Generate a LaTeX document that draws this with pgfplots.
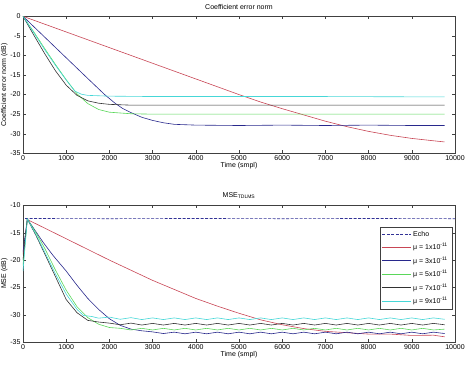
\documentclass[border=0pt]{standalone}
\usepackage{fontspec}
\setmainfont{Liberation Sans}
\usepackage{pgfplots}
\pgfplotsset{compat=1.18}
\definecolor{cred}{RGB}{200,70,85}
\definecolor{cblue}{RGB}{40,40,140}
\definecolor{cgreen}{RGB}{90,215,90}
\definecolor{cblack}{RGB}{50,50,50}
\definecolor{ccyan}{RGB}{70,215,215}
\definecolor{cecho}{RGB}{50,50,150}
\pgfplotsset{mystyle/.style={
  scale only axis, width=432pt, height=137pt,
  xmin=0, xmax=10000, xtick={0,1000,...,10000},
  tick align=inside, major tick length=3pt,
  font=\fontsize{7}{8}\selectfont,
  /pgf/number format/assume math mode=true,
  scaled x ticks=false,
  xticklabel style={/pgf/number format/set thousands separator={}, yshift=1.5pt},
  yticklabel style={xshift=1pt},
  xlabel={Time (smpl)},
  xlabel style={yshift=5pt},
  ylabel style={yshift=-4pt},
  title style={yshift=-3pt},
  axis line style={line width=0.5pt, black!75},
  every tick/.style={black!75, line width=0.4pt},
  every axis plot/.append style={line width=0.6pt},
}}
\begin{document}
\begin{tikzpicture}
\useasboundingbox (0,0) rectangle (467pt,370pt);
\begin{axis}[mystyle, at={(23pt,216.7pt)}, anchor=south west,
  ymin=-35, ymax=0, ytick={-35,-30,...,0},
  title={Coefficient error norm}, ylabel={Coefficient error norm (dB)}]
\addplot[color=cred] coordinates {(0,0) (1000,-4.0) (2000,-8.0) (3000,-12.0) (4000,-16.0) (5000,-20.0) (5500,-21.9) (6000,-23.6) (6500,-25.2) (7000,-26.8) (7500,-28.2) (8000,-29.4) (8500,-30.4) (9000,-31.2) (9500,-31.8) (9760,-32.1)};
\addplot[color=cblue] coordinates {(0,0) (500,-5.3) (1000,-10.6) (1500,-15.9) (1900,-20.1) (2130,-22.2) (2300,-23.5) (2500,-24.6) (2750,-25.8) (3000,-26.6) (3250,-27.2) (3500,-27.6) (4000,-27.8) (5000,-27.9) (6000,-27.8) (7000,-27.9) (8000,-27.8) (9000,-27.9) (9760,-27.9)};
\addplot[color=cgreen] coordinates {(0,0) (250,-4.0) (500,-8.2) (750,-12.3) (1000,-16.2) (1250,-19.8) (1500,-22.3) (1750,-23.8) (2000,-24.5) (2500,-24.9) (3000,-25.0) (5000,-25.0) (7000,-25.0) (9760,-25.0)};
\addplot[color=cblack] coordinates {(0,0) (250,-4.8) (500,-9.5) (750,-13.9) (1000,-17.6) (1250,-20.2) (1500,-21.6) (1750,-22.2) (2000,-22.5) (2500,-22.7) (4000,-22.7) (6000,-22.7) (8000,-22.7) (9760,-22.7)};
\addplot[color=ccyan] coordinates {(0,0) (250,-4.2) (500,-8.5) (750,-12.5) (1000,-16.3) (1200,-19.1) (1350,-19.9) (1500,-20.2) (2000,-20.4) (3000,-20.5) (5000,-20.5) (7000,-20.5) (9760,-20.6)};
\end{axis}
\begin{axis}[mystyle, at={(23pt,27.7pt)}, anchor=south west,
  ymin=-35, ymax=-10, ytick={-35,-30,...,-10},
  title={MSE\textsubscript{TDLMS}}, ylabel={MSE (dB)},
  legend style={at={(0.993,0.84)}, anchor=north east, font=\fontsize{7}{8}\selectfont, draw=black!75, inner sep=2pt, row sep=1.5pt},
  legend image code/.code={\draw[mark repeat=2,mark phase=2,#1,line width=0.9pt] plot coordinates {(0cm,0cm) (0.5cm,0cm) (1cm,0cm)};},
  legend cell align=left]
\addplot[color=cecho, dashed, dash pattern=on 3pt off 1.5pt] coordinates {(50,-12.4) (2000,-12.45) (4000,-12.4) (6000,-12.45) (8000,-12.4) (10000,-12.45)};
\addlegendentry{Echo}
\addplot[color=cred] coordinates {(0,-19) (100,-12.6) (1000,-16.1) (2000,-20.0) (3000,-23.7) (4000,-27.0) (4500,-28.4) (5000,-29.7) (5500,-30.9) (6000,-31.8) (6500,-32.5) (7000,-33.0) (7500,-33.25) (8000,-33.5) (8500,-33.5) (9000,-33.75) (9500,-33.7) (9760,-34.0)};
\addlegendentry{μ = 1x10\textsuperscript{-11}}
\addplot[color=cblue] coordinates {(0,-18.5) (100,-12.5) (470,-16.8) (700,-19.2) (1000,-22.0) (1250,-24.6) (1500,-27.0) (1750,-29.0) (2000,-30.7) (2250,-31.9) (2500,-32.6) (2750,-32.9) (3000,-33.1) (3250,-33.4) (3500,-33.15) (3750,-33.45) (4000,-33.15) (4250,-33.45) (4500,-33.15) (4750,-33.45) (5000,-33.15) (5250,-33.45) (5500,-33.15) (5750,-33.45) (6000,-33.15) (6250,-33.45) (6500,-33.15) (6750,-33.45) (7000,-33.15) (7250,-33.45) (7500,-33.15) (7750,-33.45) (8000,-33.15) (8250,-33.45) (8500,-33.15) (8750,-33.45) (9000,-33.15) (9250,-33.45) (9500,-33.15) (9760,-33.4)};
\addlegendentry{μ = 3x10\textsuperscript{-11}}
\addplot[color=cgreen] coordinates {(0,-21) (100,-12.5) (300,-15.0) (500,-17.8) (750,-21.8) (1000,-25.5) (1250,-28.5) (1500,-30.5) (1750,-31.7) (2000,-32.3) (2250,-32.45) (2500,-32.75) (2750,-32.45) (3000,-32.75) (3250,-32.45) (3500,-32.75) (3750,-32.45) (4000,-32.75) (4250,-32.45) (4500,-32.75) (4750,-32.45) (5000,-32.75) (5250,-32.45) (5500,-32.75) (5750,-32.45) (6000,-32.75) (6250,-32.45) (6500,-32.75) (6750,-32.45) (7000,-32.75) (7250,-32.45) (7500,-32.75) (7750,-32.45) (8000,-32.75) (8250,-32.45) (8500,-32.75) (8750,-32.45) (9000,-32.75) (9250,-32.45) (9500,-32.75) (9760,-32.6)};
\addlegendentry{μ = 5x10\textsuperscript{-11}}
\addplot[color=cblack] coordinates {(0,-20) (100,-12.5) (300,-15.5) (500,-18.8) (750,-23.0) (1000,-27.2) (1250,-29.6) (1500,-31.0) (1750,-31.3) (2000,-31.5) (2250,-31.8) (2500,-31.5) (2750,-31.85) (3000,-31.55) (3250,-31.85) (3500,-31.55) (3750,-31.85) (4000,-31.55) (4250,-31.85) (4500,-31.55) (4750,-31.85) (5000,-31.55) (5250,-31.85) (5500,-31.55) (5750,-31.85) (6000,-31.55) (6250,-31.85) (6500,-31.55) (6750,-31.85) (7000,-31.55) (7250,-31.85) (7500,-31.55) (7750,-31.85) (8000,-31.55) (8250,-31.85) (8500,-31.55) (8750,-31.85) (9000,-31.55) (9250,-31.85) (9500,-31.55) (9760,-31.8)};
\addlegendentry{μ = 7x10\textsuperscript{-11}}
\addplot[color=ccyan] coordinates {(0,-22) (100,-12.5) (300,-15.3) (500,-18.5) (750,-22.5) (1000,-26.2) (1250,-29.0) (1400,-30.1) (1600,-30.3) (1750,-30.6) (2000,-30.4) (2250,-30.8) (2500,-30.5) (2750,-30.85) (3000,-30.55) (3250,-30.85) (3500,-30.55) (3750,-30.85) (4000,-30.55) (4250,-30.85) (4500,-30.55) (4750,-30.85) (5000,-30.55) (5250,-30.85) (5500,-30.55) (5750,-30.85) (6000,-30.55) (6250,-30.85) (6500,-30.55) (6750,-30.85) (7000,-30.55) (7250,-30.85) (7500,-30.55) (7750,-30.85) (8000,-30.55) (8250,-30.85) (8500,-30.55) (8750,-30.85) (9000,-30.55) (9250,-30.85) (9500,-30.55) (9760,-30.8)};
\addlegendentry{μ = 9x10\textsuperscript{-11}}
\end{axis}
\end{tikzpicture}
\end{document}
